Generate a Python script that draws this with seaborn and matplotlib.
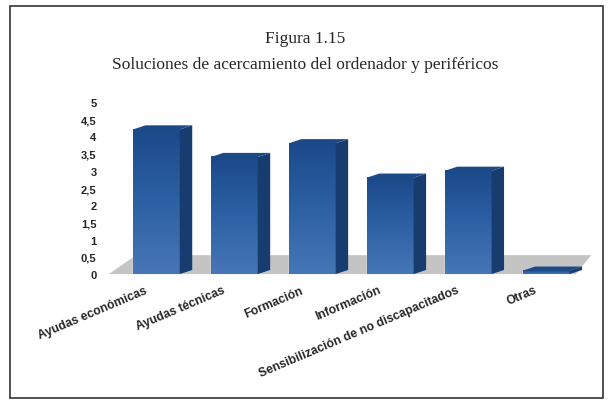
import matplotlib
matplotlib.use("Agg")
import matplotlib.pyplot as plt
import matplotlib.transforms as mtransforms
import seaborn as sns
import pandas as pd
import numpy as np
from matplotlib.patches import Polygon, Rectangle
from matplotlib.ticker import FuncFormatter

# Data
categorias = ["Ayudas económicas", "Ayudas técnicas", "Formación",
              "Información", "Sensibilización de no discapacitados", "Otras"]
valores = [4.2, 3.4, 3.8, 2.8, 3.0, 0.1]
yticks = [0, 0.5, 1, 1.5, 2, 2.5, 3, 3.5, 4, 4.5, 5]

df = pd.DataFrame({"categoria": categorias, "valor": valores})

sns.set_theme(style="white")
plt.rcParams["font.family"] = ["Liberation Sans", "DejaVu Sans"]

fig = plt.figure(figsize=(6.1, 4.1), dpi=100)
ax = fig.add_axes([0.172, 0.329, 0.80, 0.42])

FRONT = "#2b5c9e"
SIDE = "#163c70"
TOP = "#1d4a86"

sns.barplot(data=df, x="categoria", y="valor", color=FRONT, width=0.6,
            saturation=1, ax=ax, zorder=3)

ax.set_xlim(-0.66, 5.6)
ax.set_ylim(0, 5)

# fake 3D depth: offsets in data units
dx, dy = 0.16, 0.12

# gray floor
x0, x1 = ax.get_xlim()
floor = Polygon([(x0 + 0.05, 0 - 0.0), (x1 - 0.22, 0.0), (x1 - 0.02, 0.55),
                 (x0 + 0.40, 0.55)], closed=True, facecolor="#c4c4c4",
                edgecolor="none", zorder=1, clip_on=False)
ax.add_patch(floor)

cmap = matplotlib.colors.LinearSegmentedColormap.from_list(
    "b", ["#4676b6", "#2d60a4", "#1b4a8b"])
for p in ax.patches[:len(valores)]:
    if not isinstance(p, Rectangle):
        continue
    x = p.get_x()
    w = p.get_width()
    h = p.get_height()
    # vertical gradient on the front face
    grad = np.linspace(0, 1, 100).reshape(-1, 1)
    ax.imshow(grad, extent=(x, x + w, 0, h), origin="lower", aspect="auto",
              cmap=cmap, zorder=3.1)
    side = Polygon([(x + w, 0), (x + w + dx, dy), (x + w + dx, h + dy), (x + w, h)],
                   facecolor=SIDE, edgecolor="none", zorder=3.2)
    top = Polygon([(x, h), (x + dx, h + dy), (x + w + dx, h + dy), (x + w, h)],
                  facecolor=TOP, edgecolor="none", zorder=3.2)
    ax.add_patch(side)
    ax.add_patch(top)

ax.set_xlim(-0.66, 5.6)
ax.set_ylim(0, 5)
ax.set_yticks(yticks)
ax.yaxis.set_major_formatter(FuncFormatter(lambda v, _: f"{v:g}".replace(".", ",")))
ax.set_xlabel("")
ax.set_ylabel("")
for s in ax.spines.values():
    s.set_visible(False)
ax.tick_params(axis="y", length=0, pad=6, labelsize=8)
ax.tick_params(axis="x", length=0, pad=7, labelsize=8.7)
for lab in ax.get_yticklabels():
    lab.set_fontweight("bold")
shift = mtransforms.ScaledTranslation(-12 / 100, 0, fig.dpi_scale_trans)
for lab in ax.get_xticklabels():
    lab.set_fontweight("bold")
    lab.set_rotation(23)
    lab.set_ha("right")
    lab.set_rotation_mode("anchor")
    lab.set_transform(lab.get_transform() + shift)

fig.text(0.5, 0.905, "Figura 1.15", ha="center", va="center",
         family="Liberation Serif", fontsize=12.5)
fig.text(0.5, 0.842, "Soluciones de acercamiento del ordenador y periféricos",
         ha="center", va="center", family="Liberation Serif", fontsize=12.5)

# outer frame
fig.patches.append(Rectangle((0.016, 0.028), 0.972, 0.955, transform=fig.transFigure,
                             fill=False, edgecolor="#333333", linewidth=1.2))

fig.savefig("out.png", dpi=100)
